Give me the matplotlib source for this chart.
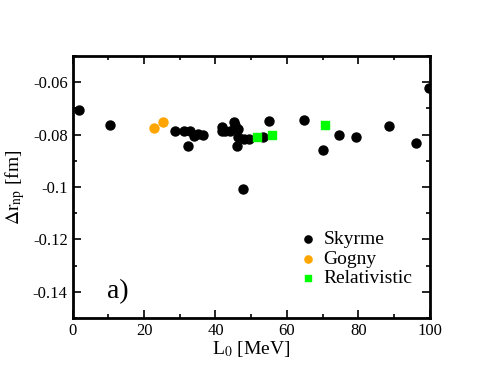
import matplotlib
matplotlib.use("Agg")
import matplotlib.pyplot as plt
from matplotlib.ticker import MultipleLocator

plt.rcParams['font.family'] = 'Liberation Serif'
plt.rcParams['mathtext.fontset'] = 'stix'

# Skyrme
sky_L = [1.9, 10.5, 28.7, 31.3, 32.3, 32.9, 34.1, 35.2, 36.6, 41.7, 41.9, 42.7,
         44.1, 45.3, 45.5, 46.4, 46.1, 46.4, 47.7, 48.1, 49.5, 53.4, 55.0, 64.8,
         70.1, 74.7, 79.4, 88.7, 96.1, 99.7]
sky_dr = [-0.0707, -0.0762, -0.0786, -0.0786, -0.0842, -0.0786, -0.0805, -0.0796,
          -0.0803, -0.0771, -0.0786, -0.0787, -0.0786, -0.0753, -0.0764, -0.0780,
          -0.0845, -0.0809, -0.1007, -0.0815, -0.0815, -0.0809, -0.0746, -0.0745,
          -0.0859, -0.0801, -0.0809, -0.0767, -0.0832, -0.0623]

# Gogny
gog_L = [22.8, 25.3]
gog_dr = [-0.0776, -0.0753]

# Relativistic
rel_L = [51.5, 55.7, 70.6]
rel_dr = [-0.0809, -0.0803, -0.0762]

fig = plt.figure(figsize=(4.84, 3.74), dpi=100)
ax = fig.add_axes([0.150, 0.150, 0.738, 0.700])

ax.scatter(sky_L, sky_dr, s=42, c='black', marker='o', label='Skyrme', zorder=3)
ax.scatter(gog_L, gog_dr, s=42, c='#ffa500', marker='o', label='Gogny', zorder=3)
ax.scatter(rel_L, rel_dr, s=36, c='#00ff00', marker='s', label='Relativistic', zorder=3)

ax.set_xlim(0, 100)
ax.set_ylim(-0.15, -0.05)
ax.xaxis.set_major_locator(MultipleLocator(20))
ax.xaxis.set_minor_locator(MultipleLocator(10))
ax.yaxis.set_minor_locator(MultipleLocator(0.01))
ax.set_yticks([-0.14, -0.12, -0.1, -0.08, -0.06])
ax.set_yticklabels(['-0.14', '-0.12', '-0.1', '-0.08', '-0.06'])

ax.tick_params(which='both', direction='in', top=True, right=True, labelsize=12, width=1.2)
ax.tick_params(which='major', length=6)
ax.tick_params(which='minor', length=3)
for sp in ax.spines.values():
    sp.set_linewidth(2)

ax.set_xlabel('L$_0$ [MeV]', fontsize=14, labelpad=0)
ax.set_ylabel(r'$\Delta$r$_{\rm np}$ [fm]', fontsize=14, labelpad=4)

ax.text(9.5, -0.1425, 'a)', fontsize=20)

ax.legend(loc='lower right', bbox_to_anchor=(1.0, 0.05), frameon=False, fontsize=14,
          handletextpad=0.3, labelspacing=0.1, handlelength=1.0, markerscale=0.8)

fig.savefig('out.png', dpi=100)
